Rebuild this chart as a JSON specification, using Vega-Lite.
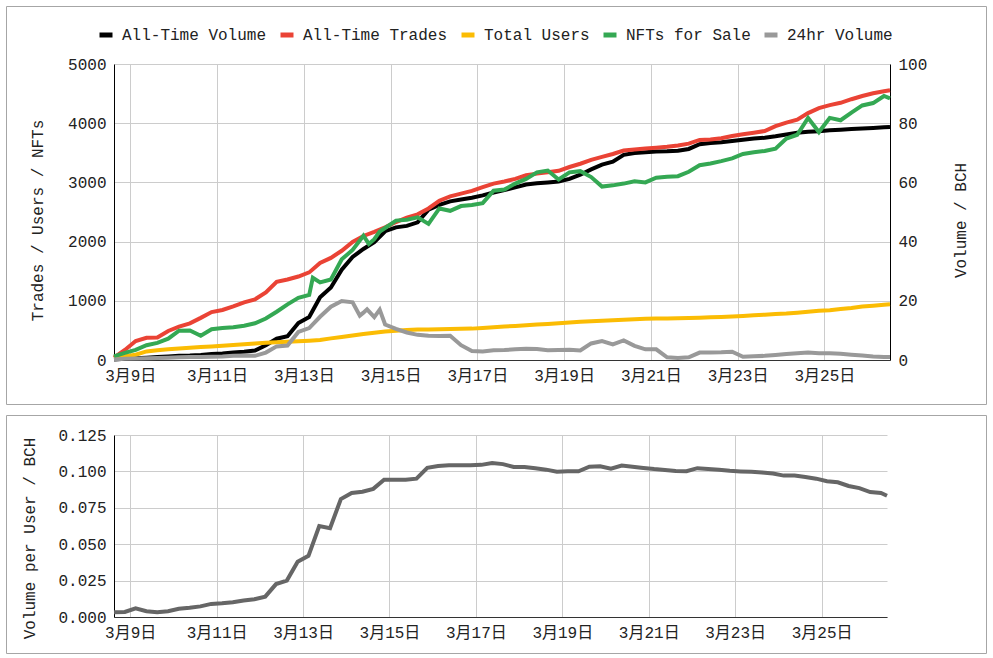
{
  "$schema": "https://vega.github.io/schema/vega-lite/v6.json",
  "padding": {"left": 5, "top": 5, "right": 0, "bottom": 0},
  "background": "white",
  "spacing": 9,
  "config": {
    "font": "Liberation Mono, Noto Sans CJK JP",
    "view": {"stroke": "#a6a6a6", "strokeWidth": 1},
    "mark": {"invalid": "filter"},
    "line": {"invalid": "filter"},
    "axis": {
      "labelFont": "Liberation Mono, Noto Sans CJK JP",
      "labelFontSize": 16,
      "labelColor": "#222222",
      "titleFont": "Liberation Mono, Noto Sans CJK JP",
      "titleFontSize": 16,
      "titleFontWeight": "normal",
      "titleColor": "#222222",
      "gridColor": "#cccccc",
      "domainColor": "#000000",
      "ticks": false
    },
    "legend": {
      "labelFont": "Liberation Mono, Noto Sans CJK JP",
      "labelFontSize": 16,
      "labelColor": "#222222"
    }
  },
  "datasets": {
    "nft": [
      {"t": "2021-03-08T15:00", "vol": 0.2, "tr": 40, "us": 40, "nf": 60, "v24": 0.2, "vpu": 0.0032},
      {"t": "2021-03-08T21:00", "vol": 0.4, "tr": 170, "us": 65, "nf": 120, "v24": 0.4, "vpu": 0.0035},
      {"t": "2021-03-09T03:00", "vol": 0.6, "tr": 320, "us": 90, "nf": 170, "v24": 0.5, "vpu": 0.0060},
      {"t": "2021-03-09T09:00", "vol": 0.8, "tr": 375, "us": 145, "nf": 250, "v24": 0.6, "vpu": 0.0040},
      {"t": "2021-03-09T15:00", "vol": 1.0, "tr": 380, "us": 165, "nf": 290, "v24": 0.7, "vpu": 0.0033},
      {"t": "2021-03-09T21:00", "vol": 1.2, "tr": 490, "us": 180, "nf": 360, "v24": 0.8, "vpu": 0.0040},
      {"t": "2021-03-10T03:00", "vol": 1.4, "tr": 565, "us": 195, "nf": 495, "v24": 0.9, "vpu": 0.0056},
      {"t": "2021-03-10T09:00", "vol": 1.5, "tr": 620, "us": 208, "nf": 500, "v24": 1.0, "vpu": 0.0063},
      {"t": "2021-03-10T15:00", "vol": 1.7, "tr": 712, "us": 220, "nf": 410, "v24": 1.0, "vpu": 0.0073},
      {"t": "2021-03-10T21:00", "vol": 2.0, "tr": 810, "us": 230, "nf": 520, "v24": 1.1, "vpu": 0.0090},
      {"t": "2021-03-11T03:00", "vol": 2.2, "tr": 845, "us": 240, "nf": 540, "v24": 1.2, "vpu": 0.0094},
      {"t": "2021-03-11T09:00", "vol": 2.5, "tr": 905, "us": 252, "nf": 555, "v24": 1.4, "vpu": 0.0102},
      {"t": "2021-03-11T15:00", "vol": 2.8, "tr": 975, "us": 265, "nf": 580, "v24": 1.5, "vpu": 0.0114},
      {"t": "2021-03-11T21:00", "vol": 3.2, "tr": 1025, "us": 278, "nf": 620, "v24": 1.4, "vpu": 0.0122},
      {"t": "2021-03-12T03:00", "vol": 5.0, "tr": 1140, "us": 290, "nf": 700, "v24": 2.5, "vpu": 0.0140},
      {"t": "2021-03-12T09:00", "vol": 7.2, "tr": 1320, "us": 300, "nf": 815, "v24": 4.6, "vpu": 0.0226},
      {"t": "2021-03-12T15:00", "vol": 8.0, "tr": 1360, "us": 310, "nf": 940, "v24": 4.9, "vpu": 0.0250},
      {"t": "2021-03-12T21:00", "vol": 12.5, "tr": 1410, "us": 318, "nf": 1050, "v24": 9.5, "vpu": 0.0380},
      {"t": "2021-03-13T03:00", "vol": 14.5, "tr": 1480, "us": 326, "nf": 1100, "v24": 10.8, "vpu": 0.0420},
      {"t": "2021-03-13T05:00", "nf": 1390},
      {"t": "2021-03-13T09:00", "vol": 21.2, "tr": 1640, "us": 338, "nf": 1310, "v24": 14.6, "vpu": 0.0625},
      {"t": "2021-03-13T15:00", "vol": 24.5, "tr": 1725, "us": 365, "nf": 1360, "v24": 18.0, "vpu": 0.0610},
      {"t": "2021-03-13T21:00", "vol": 30.5, "tr": 1845, "us": 390, "nf": 1700, "v24": 19.9, "vpu": 0.0810},
      {"t": "2021-03-14T03:00", "vol": 34.8, "tr": 1995, "us": 415, "nf": 1860, "v24": 19.5, "vpu": 0.0852},
      {"t": "2021-03-14T07:00", "v24": 15.0},
      {"t": "2021-03-14T09:00", "vol": 37.5, "tr": 2095, "us": 440, "nf": 2100, "v24": 16.0, "vpu": 0.0860},
      {"t": "2021-03-14T11:00", "v24": 17.1},
      {"t": "2021-03-14T12:00", "nf": 1960},
      {"t": "2021-03-14T15:00", "vol": 39.8, "tr": 2165, "us": 460, "nf": 2040, "v24": 14.5, "vpu": 0.0880},
      {"t": "2021-03-14T18:00", "nf": 2170, "v24": 17.0},
      {"t": "2021-03-14T21:00", "vol": 43.5, "tr": 2240, "us": 480, "nf": 2230, "v24": 12.0, "vpu": 0.0943},
      {"t": "2021-03-15T03:00", "vol": 44.8, "tr": 2330, "us": 495, "nf": 2355, "v24": 10.5, "vpu": 0.0943},
      {"t": "2021-03-15T09:00", "vol": 45.3, "tr": 2405, "us": 505, "nf": 2370, "v24": 9.3, "vpu": 0.0943},
      {"t": "2021-03-15T15:00", "vol": 46.5, "tr": 2460, "us": 515, "nf": 2410, "v24": 8.5, "vpu": 0.0950},
      {"t": "2021-03-15T21:00", "vol": 50.8, "tr": 2560, "us": 515, "nf": 2300, "v24": 8.2, "vpu": 0.1025},
      {"t": "2021-03-16T03:00", "vol": 52.4, "tr": 2690, "us": 520, "nf": 2560, "v24": 8.1, "vpu": 0.1037},
      {"t": "2021-03-16T09:00", "vol": 53.6, "tr": 2765, "us": 525, "nf": 2520, "v24": 8.2, "vpu": 0.1042},
      {"t": "2021-03-16T15:00", "vol": 54.2, "tr": 2810, "us": 528, "nf": 2600, "v24": 5.0, "vpu": 0.1042},
      {"t": "2021-03-16T21:00", "vol": 54.8, "tr": 2857, "us": 530, "nf": 2620, "v24": 3.0, "vpu": 0.1042},
      {"t": "2021-03-17T03:00", "vol": 55.6, "tr": 2920, "us": 540, "nf": 2650, "v24": 2.9, "vpu": 0.1045},
      {"t": "2021-03-17T09:00", "vol": 56.6, "tr": 2980, "us": 552, "nf": 2860, "v24": 3.3, "vpu": 0.1058},
      {"t": "2021-03-17T15:00", "vol": 57.4, "tr": 3015, "us": 565, "nf": 2880, "v24": 3.4, "vpu": 0.1050},
      {"t": "2021-03-17T21:00", "vol": 58.3, "tr": 3060, "us": 575, "nf": 2980, "v24": 3.6, "vpu": 0.1030},
      {"t": "2021-03-18T03:00", "vol": 59.3, "tr": 3120, "us": 585, "nf": 3060, "v24": 3.8, "vpu": 0.1030},
      {"t": "2021-03-18T09:00", "vol": 59.7, "tr": 3148, "us": 598, "nf": 3170, "v24": 3.7, "vpu": 0.1022},
      {"t": "2021-03-18T15:00", "vol": 60.0, "tr": 3170, "us": 610, "nf": 3200, "v24": 3.3, "vpu": 0.1012},
      {"t": "2021-03-18T21:00", "vol": 60.3, "tr": 3195, "us": 622, "nf": 3050, "v24": 3.4, "vpu": 0.0998},
      {"t": "2021-03-19T03:00", "vol": 61.2, "tr": 3260, "us": 635, "nf": 3170, "v24": 3.5, "vpu": 0.1001},
      {"t": "2021-03-19T09:00", "vol": 62.6, "tr": 3315, "us": 645, "nf": 3190, "v24": 3.2, "vpu": 0.1001},
      {"t": "2021-03-19T15:00", "vol": 64.4, "tr": 3380, "us": 654, "nf": 3090, "v24": 5.6, "vpu": 0.1032},
      {"t": "2021-03-19T21:00", "vol": 66.0, "tr": 3430, "us": 664, "nf": 2930, "v24": 6.4, "vpu": 0.1035},
      {"t": "2021-03-20T03:00", "vol": 67.0, "tr": 3480, "us": 672, "nf": 2950, "v24": 5.3, "vpu": 0.1018},
      {"t": "2021-03-20T09:00", "vol": 69.3, "tr": 3538, "us": 680, "nf": 2980, "v24": 6.6, "vpu": 0.1040},
      {"t": "2021-03-20T15:00", "vol": 69.9, "tr": 3555, "us": 688, "nf": 3020, "v24": 4.8, "vpu": 0.1032},
      {"t": "2021-03-20T21:00", "vol": 70.2, "tr": 3572, "us": 695, "nf": 3000, "v24": 3.6, "vpu": 0.1024},
      {"t": "2021-03-21T03:00", "vol": 70.4, "tr": 3585, "us": 700, "nf": 3080, "v24": 3.6, "vpu": 0.1016},
      {"t": "2021-03-21T09:00", "vol": 70.5, "tr": 3602, "us": 703, "nf": 3095, "v24": 0.9, "vpu": 0.1010},
      {"t": "2021-03-21T15:00", "vol": 70.7, "tr": 3625, "us": 707, "nf": 3105, "v24": 0.7, "vpu": 0.1003},
      {"t": "2021-03-21T21:00", "vol": 71.3, "tr": 3655, "us": 711, "nf": 3180, "v24": 0.9, "vpu": 0.1001},
      {"t": "2021-03-22T03:00", "vol": 72.9, "tr": 3718, "us": 715, "nf": 3290, "v24": 2.5, "vpu": 0.1022},
      {"t": "2021-03-22T09:00", "vol": 73.3, "tr": 3725, "us": 722, "nf": 3320, "v24": 2.5, "vpu": 0.1017},
      {"t": "2021-03-22T15:00", "vol": 73.6, "tr": 3745, "us": 728, "nf": 3360, "v24": 2.6, "vpu": 0.1012},
      {"t": "2021-03-22T21:00", "vol": 74.0, "tr": 3785, "us": 735, "nf": 3405, "v24": 2.8, "vpu": 0.1004},
      {"t": "2021-03-23T03:00", "vol": 74.4, "tr": 3815, "us": 745, "nf": 3480, "v24": 1.1, "vpu": 0.1000},
      {"t": "2021-03-23T09:00", "vol": 74.8, "tr": 3840, "us": 755, "nf": 3510, "v24": 1.3, "vpu": 0.0997},
      {"t": "2021-03-23T15:00", "vol": 75.1, "tr": 3868, "us": 765, "nf": 3530, "v24": 1.4, "vpu": 0.0993},
      {"t": "2021-03-23T21:00", "vol": 75.6, "tr": 3950, "us": 775, "nf": 3570, "v24": 1.7, "vpu": 0.0985},
      {"t": "2021-03-24T03:00", "vol": 76.2, "tr": 4010, "us": 785, "nf": 3740, "v24": 2.0, "vpu": 0.0971},
      {"t": "2021-03-24T09:00", "vol": 76.8, "tr": 4060, "us": 800, "nf": 3805, "v24": 2.3, "vpu": 0.0971},
      {"t": "2021-03-24T15:00", "vol": 77.1, "tr": 4170, "us": 815, "nf": 4090, "v24": 2.5, "vpu": 0.0962},
      {"t": "2021-03-24T21:00", "vol": 77.3, "tr": 4255, "us": 830, "nf": 3850, "v24": 2.3, "vpu": 0.0950},
      {"t": "2021-03-25T03:00", "vol": 77.6, "tr": 4305, "us": 842, "nf": 4090, "v24": 2.3, "vpu": 0.0932},
      {"t": "2021-03-25T09:00", "vol": 77.8, "tr": 4345, "us": 860, "nf": 4050, "v24": 2.1, "vpu": 0.0925},
      {"t": "2021-03-25T15:00", "vol": 78.0, "tr": 4405, "us": 880, "nf": 4180, "v24": 1.8, "vpu": 0.0900},
      {"t": "2021-03-25T21:00", "vol": 78.2, "tr": 4460, "us": 905, "nf": 4300, "v24": 1.5, "vpu": 0.0885},
      {"t": "2021-03-26T03:00", "vol": 78.4, "tr": 4505, "us": 918, "nf": 4340, "v24": 1.2, "vpu": 0.0858},
      {"t": "2021-03-26T09:00", "vol": 78.6, "tr": 4540, "us": 932, "nf": 4460, "v24": 1.0, "vpu": 0.0852},
      {"t": "2021-03-26T12:20", "vol": 78.7, "tr": 4555, "us": 941, "nf": 4420, "v24": 1.0, "vpu": 0.0833}
    ]
  },
  "data": {"name": "nft"},
  "vconcat": [
    {
      "width": 980,
      "height": 398,
      "layer": [
        {
          "mark": {"type": "line", "strokeWidth": 4, "invalid": "filter"},
          "encoding": {
            "x": {"field": "t", "type": "temporal",
              "scale": {"domain": [{"year": 2021, "month": 3, "date": 8, "hours": 15}, {"year": 2021, "month": 3, "date": 26, "hours": 12, "minutes": 20}], "range": [108, 884]},
              "axis": {"orient": "bottom", "offset": -44, "grid": false, "title": null, "format": "%-m月%-d日", "labelPadding": 7, "domainColor": "#333333",
                "values": [{"year": 2021, "month": 3, "date": 9}, {"year": 2021, "month": 3, "date": 11}, {"year": 2021, "month": 3, "date": 13}, {"year": 2021, "month": 3, "date": 15}, {"year": 2021, "month": 3, "date": 17}, {"year": 2021, "month": 3, "date": 19}, {"year": 2021, "month": 3, "date": 21}, {"year": 2021, "month": 3, "date": 23}, {"year": 2021, "month": 3, "date": 25}]}},
            "y": {"field": "vol", "type": "quantitative",
              "scale": {"domain": [0, 100], "range": [354, 58]},
              "axis": {"orient": "right", "offset": -96, "grid": false, "values": [0, 20, 40, 60, 80, 100], "format": "d", "labelPadding": 8,
                "title": "Volume / BCH", "titleAngle": -90, "titleBaseline": "alphabetic", "titleX": 75, "titleY": 214}},
            "color": {"datum": "All-Time Volume", "type": "nominal",
              "scale": {"domain": ["All-Time Volume", "All-Time Trades", "Total Users", "NFTs for Sale", "24hr Volume"], "range": ["#000000", "#ea4335", "#fbbc04", "#34a853", "#999999"]},
              "legend": {"title": null, "orient": "none", "legendX": 91, "legendY": 20, "direction": "horizontal", "columns": 5, "symbolType": "stroke", "symbolSize": 169, "symbolStrokeWidth": 5, "labelOffset": 7, "columnPadding": 3, "padding": 0}}
          }
        },
        {
          "mark": {"type": "line", "strokeWidth": 4, "invalid": "filter"},
          "encoding": {
            "x": {"field": "t", "type": "temporal",
              "scale": {"domain": [{"year": 2021, "month": 3, "date": 8, "hours": 15}, {"year": 2021, "month": 3, "date": 26, "hours": 12, "minutes": 20}], "range": [108, 884]},
              "axis": {"orient": "top", "grid": true, "labels": false, "domain": false, "title": null,
                "values": [{"year": 2021, "month": 3, "date": 9}, {"year": 2021, "month": 3, "date": 11}, {"year": 2021, "month": 3, "date": 13}, {"year": 2021, "month": 3, "date": 15}, {"year": 2021, "month": 3, "date": 17}, {"year": 2021, "month": 3, "date": 19}, {"year": 2021, "month": 3, "date": 21}, {"year": 2021, "month": 3, "date": 23}, {"year": 2021, "month": 3, "date": 25}]}},
            "y": {"field": "tr", "type": "quantitative",
              "scale": {"domain": [0, 5000], "range": [354, 58]},
              "axis": {"orient": "left", "offset": -108, "grid": true, "values": [0, 1000, 2000, 3000, 4000, 5000], "format": "d", "labelPadding": 8,
                "title": "Trades / Users / NFTs", "titleAngle": -90, "titleBaseline": "alphabetic", "titleX": -72, "titleY": 214}},
            "color": {"datum": "All-Time Trades", "type": "nominal",
              "scale": {"domain": ["All-Time Volume", "All-Time Trades", "Total Users", "NFTs for Sale", "24hr Volume"], "range": ["#000000", "#ea4335", "#fbbc04", "#34a853", "#999999"]},
              "legend": {"title": null, "orient": "none", "legendX": 91, "legendY": 20, "direction": "horizontal", "columns": 5, "symbolType": "stroke", "symbolSize": 169, "symbolStrokeWidth": 5, "labelOffset": 7, "columnPadding": 3, "padding": 0}}
          }
        },
        {
          "mark": {"type": "line", "strokeWidth": 4, "invalid": "filter"},
          "encoding": {
            "x": {"field": "t", "type": "temporal",
              "scale": {"domain": [{"year": 2021, "month": 3, "date": 8, "hours": 15}, {"year": 2021, "month": 3, "date": 26, "hours": 12, "minutes": 20}], "range": [108, 884]},
              "axis": null},
            "y": {"field": "us", "type": "quantitative", "scale": {"domain": [0, 5000], "range": [354, 58]}, "axis": null},
            "color": {"datum": "Total Users", "type": "nominal",
              "scale": {"domain": ["All-Time Volume", "All-Time Trades", "Total Users", "NFTs for Sale", "24hr Volume"], "range": ["#000000", "#ea4335", "#fbbc04", "#34a853", "#999999"]},
              "legend": {"title": null, "orient": "none", "legendX": 91, "legendY": 20, "direction": "horizontal", "columns": 5, "symbolType": "stroke", "symbolSize": 169, "symbolStrokeWidth": 5, "labelOffset": 7, "columnPadding": 3, "padding": 0}}
          }
        },
        {
          "mark": {"type": "line", "strokeWidth": 4, "invalid": "filter"},
          "encoding": {
            "x": {"field": "t", "type": "temporal",
              "scale": {"domain": [{"year": 2021, "month": 3, "date": 8, "hours": 15}, {"year": 2021, "month": 3, "date": 26, "hours": 12, "minutes": 20}], "range": [108, 884]},
              "axis": null},
            "y": {"field": "nf", "type": "quantitative", "scale": {"domain": [0, 5000], "range": [354, 58]}, "axis": null},
            "color": {"datum": "NFTs for Sale", "type": "nominal",
              "scale": {"domain": ["All-Time Volume", "All-Time Trades", "Total Users", "NFTs for Sale", "24hr Volume"], "range": ["#000000", "#ea4335", "#fbbc04", "#34a853", "#999999"]},
              "legend": {"title": null, "orient": "none", "legendX": 91, "legendY": 20, "direction": "horizontal", "columns": 5, "symbolType": "stroke", "symbolSize": 169, "symbolStrokeWidth": 5, "labelOffset": 7, "columnPadding": 3, "padding": 0}}
          }
        },
        {
          "mark": {"type": "line", "strokeWidth": 4, "invalid": "filter"},
          "encoding": {
            "x": {"field": "t", "type": "temporal",
              "scale": {"domain": [{"year": 2021, "month": 3, "date": 8, "hours": 15}, {"year": 2021, "month": 3, "date": 26, "hours": 12, "minutes": 20}], "range": [108, 884]},
              "axis": null},
            "y": {"field": "v24", "type": "quantitative", "scale": {"domain": [0, 100], "range": [354, 58]}, "axis": null},
            "color": {"datum": "24hr Volume", "type": "nominal",
              "scale": {"domain": ["All-Time Volume", "All-Time Trades", "Total Users", "NFTs for Sale", "24hr Volume"], "range": ["#000000", "#ea4335", "#fbbc04", "#34a853", "#999999"]},
              "legend": {"title": null, "orient": "none", "legendX": 91, "legendY": 20, "direction": "horizontal", "columns": 5, "symbolType": "stroke", "symbolSize": 169, "symbolStrokeWidth": 5, "labelOffset": 7, "columnPadding": 3, "padding": 0}}
          }
        }
      ],
      "resolve": {"scale": {"y": "independent"}, "axis": {"x": "independent", "y": "independent"}}
    },
    {
      "width": 980,
      "height": 238,
      "layer": [
        {
          "mark": {"type": "line", "strokeWidth": 4, "color": "#666666", "invalid": "filter"},
          "encoding": {
            "x": {"field": "t", "type": "temporal",
              "scale": {"domain": [{"year": 2021, "month": 3, "date": 8, "hours": 15}, {"year": 2021, "month": 3, "date": 26, "hours": 12, "minutes": 20}], "range": [108, 881]},
              "axis": {"orient": "bottom", "offset": -36, "grid": false, "title": null, "format": "%-m月%-d日", "labelPadding": 7, "domainColor": "#333333",
                "values": [{"year": 2021, "month": 3, "date": 9}, {"year": 2021, "month": 3, "date": 11}, {"year": 2021, "month": 3, "date": 13}, {"year": 2021, "month": 3, "date": 15}, {"year": 2021, "month": 3, "date": 17}, {"year": 2021, "month": 3, "date": 19}, {"year": 2021, "month": 3, "date": 21}, {"year": 2021, "month": 3, "date": 23}, {"year": 2021, "month": 3, "date": 25}]}},
            "y": {"field": "vpu", "type": "quantitative",
              "scale": {"domain": [0, 0.125], "range": [202, 20]},
              "axis": {"orient": "left", "offset": -108, "grid": true, "values": [0, 0.025, 0.05, 0.075, 0.1, 0.125], "format": ".3f", "labelPadding": 8,
                "title": "Volume per User / BCH", "titleAngle": -90, "titleBaseline": "alphabetic", "titleX": -80, "titleY": 123}}
          }
        },
        {
          "mark": {"type": "line", "strokeWidth": 4, "color": "#666666", "opacity": 0, "invalid": "filter"},
          "encoding": {
            "x": {"field": "t", "type": "temporal",
              "scale": {"domain": [{"year": 2021, "month": 3, "date": 8, "hours": 15}, {"year": 2021, "month": 3, "date": 26, "hours": 12, "minutes": 20}], "range": [108, 881]},
              "axis": {"orient": "top", "grid": true, "labels": false, "domain": false, "title": null,
                "values": [{"year": 2021, "month": 3, "date": 9}, {"year": 2021, "month": 3, "date": 11}, {"year": 2021, "month": 3, "date": 13}, {"year": 2021, "month": 3, "date": 15}, {"year": 2021, "month": 3, "date": 17}, {"year": 2021, "month": 3, "date": 19}, {"year": 2021, "month": 3, "date": 21}, {"year": 2021, "month": 3, "date": 23}, {"year": 2021, "month": 3, "date": 25}]}},
            "y": {"field": "vpu", "type": "quantitative", "scale": {"domain": [0, 0.125], "range": [202, 20]}, "axis": null}
          }
        }
      ],
      "resolve": {"axis": {"x": "independent", "y": "independent"}}
    }
  ]
}
